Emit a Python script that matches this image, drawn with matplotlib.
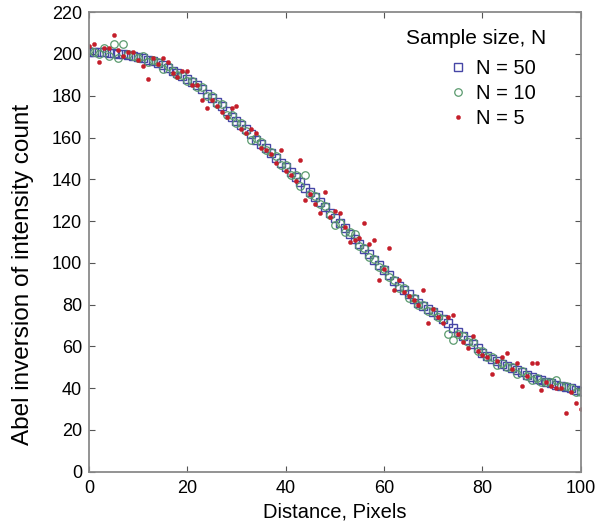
import matplotlib
matplotlib.use('Agg')
import matplotlib.pyplot as plt

plt.rcParams['font.family'] = ['Liberation Sans', 'DejaVu Sans']

# distance in pixels (0..100)
pixels = list(range(101))

# Abel inversion, one value per pixel
n50 = [201, 201, 201, 201, 200.5, 200.5, 200, 200, 199.5, 199, 198.5,
       198, 197, 196.5, 195.5, 194.5, 193.5, 192, 191, 189.5, 188,
       186.5, 185, 183, 181, 179, 177, 175, 172.5, 170, 168,
       166, 164, 161.5, 159, 157, 155, 152.5, 150, 148, 146,
       143.5, 141, 138.5, 136, 134, 131.5, 129, 126.5, 124, 121.5,
       119, 116.5, 114, 111.5, 109, 106.5, 104, 101.5, 99, 96.5,
       94, 91.5, 89, 87, 85, 82.5, 81, 79.5, 78, 76.5,
       75, 73, 71, 69, 67, 65, 63, 61, 59, 57,
       55.5, 54, 53, 51.5, 50.5, 49.5, 48.5, 47.5, 46.5, 45.5,
       44.5, 44, 43, 42.5, 41.5, 41, 40.5, 40, 39, 38.5]

n10 = [202, 201, 200, 203, 199, 205, 198, 205, 200, 199, 198,
       199, 196, 197, 196, 193, 194, 192, 190, 190, 187,
       187, 184, 184, 180, 180, 176, 176, 171, 171, 167,
       167, 163, 159, 160, 158, 154, 153, 151, 147, 147,
       142, 142, 137, 142, 133, 132, 128, 127, 123, 118,
       119, 115, 115, 114, 108, 107, 103, 102, 98, 97,
       93, 92, 88, 88, 83, 83, 80, 80, 77, 77,
       74, 73, 66, 63, 66, 65, 62, 62, 58, 58,
       55, 55, 51, 52, 50, 50, 46.7, 48, 46, 44,
       45, 43, 43, 43, 44, 41, 41, 40, 38, 38]

n5 = [204, 205, 196, 203, 203, 209, 202, 199, 201, 201, 197,
      194, 188, 198, 195, 198, 196, 191, 189, 192, 192,
      185, 185, 178, 174, 178, 175, 172, 170, 174, 175,
      164, 162, 164, 162, 155, 154, 152, 148, 154, 144,
      142, 139, 149, 130, 133, 128, 124, 134, 122, 125,
      124, 117, 110, 111, 112, 119, 109, 111, 92, 97,
      107, 87, 92, 86, 84, 82, 80, 87, 71, 78,
      74, 71, 74, 75, 66, 62, 59, 65, 58, 56,
      55, 47, 53, 55, 57, 49, 52, 41, 46, 52,
      52, 39, 43, 41, 40, 40, 28, 38, 33, 30]

fig = plt.figure(figsize=(6.05, 5.3), dpi=100)
ax = fig.add_axes([0.147, 0.110, 0.813, 0.867])

ax.plot(pixels, n50, linestyle='none', marker='s', markersize=5.6,
        markerfacecolor='none', markeredgecolor='#4646a6', markeredgewidth=1.0,
        label='N = 50')
ax.plot(pixels, n10, linestyle='none', marker='o', markersize=5.4,
        markerfacecolor='none', markeredgecolor='#5a9a6e', markeredgewidth=0.9,
        label='N = 10')
ax.plot(pixels, n5, linestyle='none', marker='o', markersize=3.0,
        markerfacecolor='#c41e2a', markeredgecolor='#c41e2a', markeredgewidth=0.3,
        label='N = 5')

ax.set_xlim(0, 100)
ax.set_ylim(0, 220)
ax.set_xticks(range(0, 101, 20))
ax.set_yticks(range(0, 221, 20))
ax.tick_params(direction='in', top=True, right=True, length=4,
               color='#555555', labelsize=13)
ax.tick_params(axis='x', pad=6)
ax.tick_params(axis='y', pad=5)
for s in ax.spines.values():
    s.set_color('#8a8a8a')
    s.set_linewidth(1.3)

ax.set_xlabel('Distance, Pixels', fontsize=14.5, labelpad=4)
ax.set_ylabel('Abel inversion of intensity count', fontsize=17.5)
ax.yaxis.set_label_coords(-0.112, 0.43)

# legend title drawn separately so the gap to the entries matches
ax.text(0.929, 0.943, 'Sample size, N', transform=ax.transAxes,
        ha='right', va='center', fontsize=15)
ax.legend(loc='upper left', bbox_to_anchor=(0.730, 0.898), frameon=False,
          fontsize=14.5, handletextpad=0.4, handlelength=1.0,
          borderaxespad=0.0, borderpad=0.0, labelspacing=0.3)

plt.savefig('out.png', dpi=100)
